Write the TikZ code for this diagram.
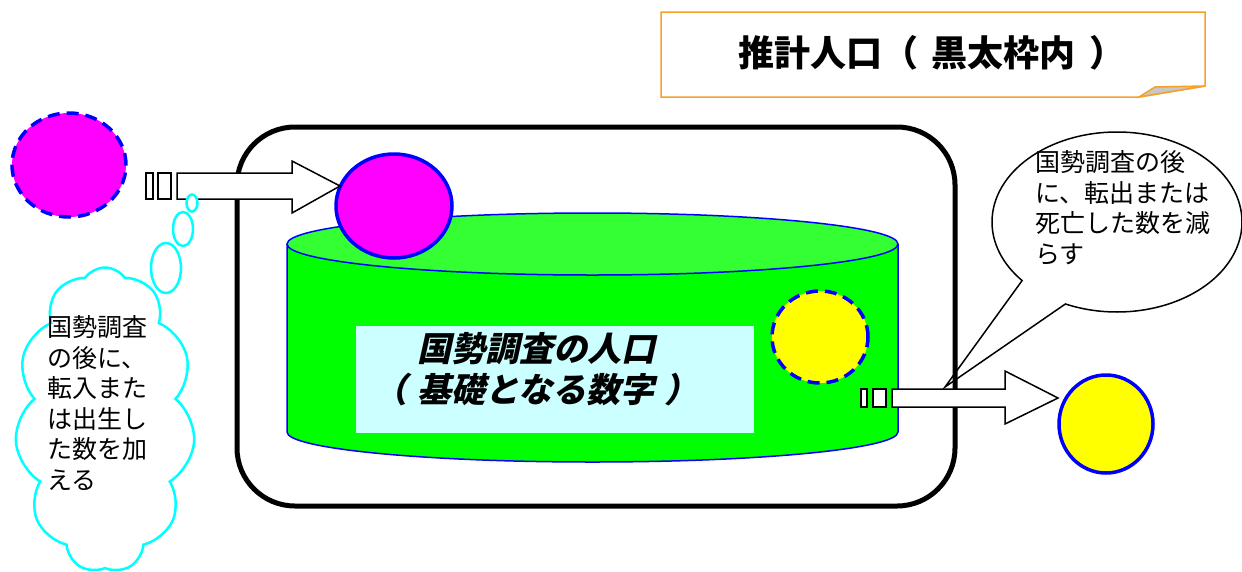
\documentclass[tikz,border=0pt]{standalone}
\usepackage{fontspec}
\usetikzlibrary{shapes.geometric,shapes.symbols,shapes.callouts}
\newfontfamily\jp{Noto Sans CJK JP}
\newfontfamily\jpsl{Noto Sans CJK JP}[FakeSlant=0.22]
\definecolor{magentaF}{RGB}{255,0,255}
\definecolor{blueB}{RGB}{0,0,255}
\definecolor{greenBody}{RGB}{0,255,0}
\definecolor{greenTop}{RGB}{51,255,51}
\definecolor{lightcyanF}{RGB}{204,255,255}
\definecolor{yellowF}{RGB}{255,255,0}
\definecolor{cyanL}{RGB}{0,255,255}
\definecolor{orangeL}{RGB}{247,160,40}
\definecolor{foldgray}{RGB}{200,200,200}
\begin{document}
\begin{tikzpicture}[x=1pt,y=-1pt,
  ball/.style={ellipse, inner sep=0pt, line width=3.5pt, draw=blueB},
  dashedball/.style={ball, dash pattern=on 12pt off 7pt},
  blockarrow/.style={draw=black, fill=white, line width=1.5pt, line join=miter},
  thought/.style={draw=cyanL, fill=white, line width=2.5pt},
  jptext/.style={inner sep=0pt, align=left, font=\jp\fontsize{25}{30.5}\selectfont}
]
\useasboundingbox (0,0) rectangle (1242,571);

% speech bubble (right)
\node[ellipse callout, draw=black, fill=white, line width=1.5pt,
      minimum width=250pt, minimum height=180pt, inner sep=0pt,
      callout pointer arc=25, callout absolute pointer={(945,387)}]
      (bubble) at (1117,222) {};
\node[jptext, anchor=west] (bubbletext) at (1035,208)
  {国勢調査の後\\に、転出または\\死亡した数を減\\らす};

% title box
\draw[draw=orangeL, fill=white, line width=1.5pt, line join=miter]
  (661,12) -- (1205,12) -- (1205,86) -- (1139,97) -- (661,97) -- cycle;
\draw[draw=orangeL, fill=foldgray, line width=1.5pt, line join=miter]
  (1139,97) -- (1155,87) -- (1205,86) -- cycle;
\node[inner sep=0pt, font=\jp\bfseries\fontsize{36}{40}\selectfont] (title) at (932,53)
  {推計人口（\hspace{14pt}黒太枠内\hspace{14pt}）};

% thick rounded frame
\draw[line width=5pt, rounded corners=58pt] (237,127) rectangle (955,506);

% cylinder
\fill[greenBody] (287,244) rectangle (898,432);
\fill[greenBody] (592.5,432) ellipse [x radius=305.5pt, y radius=30pt];
\draw[blueB, line width=1.5pt] (287,244) -- (287,432)
  arc[start angle=180, end angle=360, x radius=305.5pt, y radius=30pt] -- (898,244);
\draw[blueB, fill=greenTop, line width=1.5pt] (592.5,244) ellipse [x radius=305.5pt, y radius=31pt];

% label box
\node[fill=lightcyanF, minimum width=398pt, minimum height=107pt, inner sep=0pt] (basebox) at (555,379.5) {};
\node[inner sep=0pt, align=center, font=\jpsl\bfseries\fontsize{34}{41}\selectfont] (basetext) at (536,369.5)
  {国勢調査の人口\\（\hspace{10pt}基礎となる数字\hspace{10pt}）};

% circles
\node[dashedball, fill=magentaF, minimum width=114pt, minimum height=104pt] (inL) at (69,165) {};
\node[ball, fill=magentaF, minimum width=116pt, minimum height=104pt] (inC) at (394,206) {};
\node[dashedball, fill=yellowF, minimum width=96pt, minimum height=92pt] (outC) at (820,337) {};
\node[ball, fill=yellowF, minimum width=94pt, minimum height=98pt] (outR) at (1106,424) {};

% left block arrow
\draw[blockarrow] (146,173) rectangle (153,199);
\draw[blockarrow] (158,173) rectangle (171,199);
\draw[blockarrow] (177,173) -- (292,173) -- (292,161) -- (340,186) -- (292,213) -- (292,199) -- (177,199) -- cycle;

% right block arrow
\draw[blockarrow] (861,389) rectangle (867,407);
\draw[blockarrow] (873,389) rectangle (886,407);
\draw[blockarrow] (892,389) -- (1005,389) -- (1005,371) -- (1058,398) -- (1005,424) -- (1005,407) -- (892,407) -- cycle;

% thought cloud (left)
\node[cloud, cloud puffs=11, cloud puff arc=110, cloud ignores aspect,
      minimum width=180pt, minimum height=305pt, inner sep=0pt, thought] (cloud) at (105,420) {};
\node[thought, ellipse, inner sep=0pt, minimum width=30pt, minimum height=50pt] (t3) at (166,268) {};
\node[thought, ellipse, inner sep=0pt, minimum width=20pt, minimum height=34pt] (t2) at (183,229) {};
\node[thought, ellipse, inner sep=0pt, minimum width=11pt, minimum height=17pt] (t1) at (192,203) {};
\node[jptext, anchor=west] (cloudtext) at (47,403)
  {国勢調査\\の後に、\\転入また\\は出生し\\た数を加\\える};
\end{tikzpicture}
\end{document}
